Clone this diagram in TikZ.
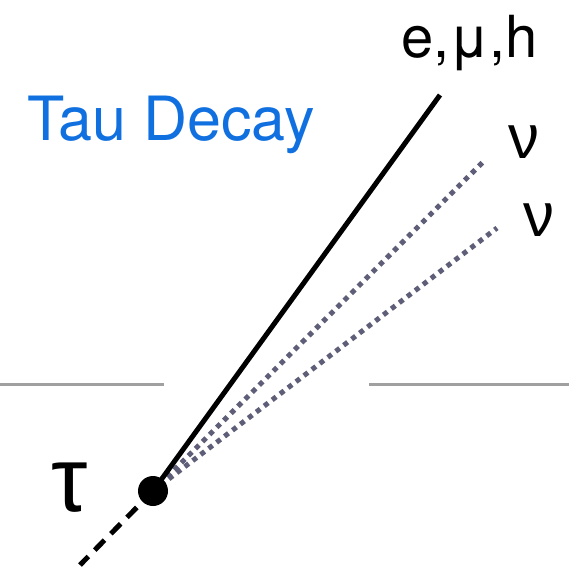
\documentclass[tikz,border=0pt]{standalone}
\usepackage{fontspec}
\setmainfont{TeX Gyre Heros}
\newfontfamily\greekfont{Liberation Sans}
\definecolor{taublue}{HTML}{1170E0}
\definecolor{nugray}{HTML}{5E5E78}
\definecolor{linegray}{HTML}{A0A0A0}
\begin{document}
\begin{tikzpicture}[x=1pt,y=-1pt,
  lbl/.style={inner sep=0pt,font=\fontsize{58}{60}\selectfont},
  nuline/.style={color=nugray,line width=5pt,dash pattern=on 5pt off 5pt},
  floor/.style={color=linegray,line width=3pt}]
\useasboundingbox (0,0) rectangle (569,570);
\fill[white] (0,0) rectangle (569,570);
\coordinate (v) at (153,491);
\coordinate (lep) at (440,95);
\coordinate (nu1e) at (485,160);
\coordinate (nu2e) at (497,228);
\coordinate (taus) at (80,565);
\coordinate (fl1) at (0,384);
\coordinate (fl2) at (164,384);
\coordinate (fr1) at (369,384);
\coordinate (fr2) at (569,384);
\draw[floor] (fl1) -- (fl2);
\draw[floor] (fr1) -- (fr2);
\draw[nuline] (v) -- (nu1e);
\draw[nuline] (v) -- (nu2e);
\draw[line width=5pt] (v) -- (lep);
\draw[line width=5pt,dash pattern=on 14pt off 9pt] (v) -- (taus);
\fill (v) circle (15);
\node[lbl,anchor=base west,text=taublue,font=\fontsize{61}{63}\selectfont] (title) at (27,140) {Tau Decay};
\node[lbl,anchor=base west] (lepl) at (401,57) {e,μ,h};
\node[lbl,anchor=base west,font=\fontsize{62}{64}\greekfont] (nu1) at (508,158) {ν};
\node[lbl,anchor=base west,font=\fontsize{62}{64}\greekfont] (nu2) at (523,236) {ν};
\node[lbl,anchor=base west,font=\fontsize{92}{94}\greekfont] (tau) at (51,511) {τ};
\end{tikzpicture}
\end{document}
